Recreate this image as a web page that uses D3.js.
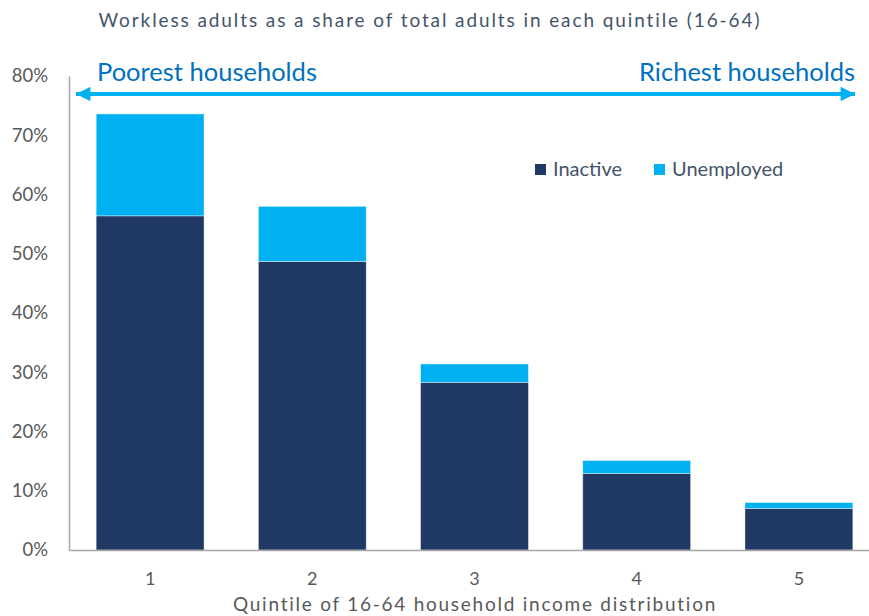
<!DOCTYPE html>
<html>
<head>
<meta charset="utf-8">
<script src="https://cdn.jsdelivr.net/npm/d3@7"></script>
<style>
  html, body { margin: 0; padding: 0; background: #ffffff; }
  svg { display: block; font-family: Lato, "Open Sans", sans-serif; }
</style>
</head>
<body>
<svg id="chart" width="869" height="616"></svg>
<script>
// Quintiles of 16-64 household income, poorest (1) to richest (5)
const quintiles = ["1", "2", "3", "4", "5"];
// Share of adults in each quintile, in percent
const inactive   = [56.4, 48.7, 28.3, 12.9, 7.0];
const unemployed = [17.2, 9.3, 3.1, 2.2, 1.0];
const seriesNames = ["Inactive", "Unemployed"];
const seriesColors = ["#1F3864", "#00B0F0"];
const yTicks = [0, 10, 20, 30, 40, 50, 60, 70, 80];

const svg = d3.select("#chart");
const margin = { left: 69, right: 880, top: 76, bottom: 550 };

const x = d3.scaleBand().domain(quintiles).range([margin.left, margin.right]).paddingInner(0.335).paddingOuter(0.1675);
const y = d3.scaleLinear().domain([0, 80]).range([margin.bottom, margin.top]);

const rows = quintiles.map((q, i) => ({ q, Inactive: inactive[i], Unemployed: unemployed[i] }));
const stacked = d3.stack().keys(seriesNames)(rows);

// Title
svg.append("text")
  .attr("x", 430).attr("y", 27)
  .attr("text-anchor", "middle")
  .attr("fill", "#44546A")
  .attr("font-size", 19)
  .attr("letter-spacing", 1.9)
  .text("Workless adults as a share of total adults in each quintile (16-64)");

// Stacked bars
svg.append("g").selectAll("g")
  .data(stacked)
  .join("g")
  .attr("fill", (d, i) => seriesColors[i])
  .selectAll("rect")
  .data(d => d)
  .join("rect")
  .attr("x", d => x(d.data.q))
  .attr("width", x.bandwidth())
  .attr("y", d => y(d[1]))
  .attr("height", d => y(d[0]) - y(d[1]))
  .attr("stroke", "#ffffff")
  .attr("stroke-opacity", 0.5)
  .attr("stroke-width", 0.8);

// Y axis
const yAxis = svg.append("g")
  .attr("transform", `translate(${margin.left},0)`)
  .call(d3.axisLeft(y).tickValues(yTicks).tickFormat(d => d + "%").tickSize(0).tickPadding(21));
yAxis.select(".domain").attr("stroke", "#A6A6A6").attr("stroke-width", 1.5);
yAxis.selectAll("text").attr("font-size", 18.5).attr("fill", "#595959").attr("font-family", "Lato, sans-serif");

// X axis
const xAxis = svg.append("g")
  .attr("transform", `translate(0,${margin.bottom})`)
  .call(d3.axisBottom(x).tickSize(0).tickPadding(22));
xAxis.select(".domain").attr("stroke", "#A6A6A6").attr("stroke-width", 1.5);
xAxis.selectAll("text").attr("font-size", 18).attr("fill", "#595959").attr("font-family", "Lato, sans-serif");

svg.append("text")
  .attr("x", 475).attr("y", 611)
  .attr("text-anchor", "middle")
  .attr("fill", "#595959")
  .attr("font-size", 19)
  .attr("letter-spacing", 1.75)
  .text("Quintile of 16-64 household income distribution");

// Double-headed arrow from poorest to richest
const arrowY = 94;
const defs = svg.append("defs");
["start", "end"].forEach(k => {
  defs.append("marker")
    .attr("id", "head-" + k)
    .attr("viewBox", "0 0 10 10")
    .attr("refX", 10).attr("refY", 5)
    .attr("markerWidth", 4).attr("markerHeight", 3.6)
    .attr("markerUnits", "strokeWidth")
    .attr("orient", k === "start" ? "auto-start-reverse" : "auto")
    .append("path")
    .attr("d", "M0,0 L10,5 L0,10 Z")
    .attr("fill", "#00B0F0");
});
svg.append("line")
  .attr("x1", 76).attr("x2", 855)
  .attr("y1", arrowY).attr("y2", arrowY)
  .attr("stroke", "#00B0F0")
  .attr("stroke-width", 4)
  .attr("marker-start", "url(#head-start)")
  .attr("marker-end", "url(#head-end)");

svg.append("text")
  .attr("x", 97).attr("y", 81)
  .attr("fill", "#0070C0").attr("font-size", 25.5)
  .text("Poorest households");
svg.append("text")
  .attr("x", 855).attr("y", 81)
  .attr("text-anchor", "end")
  .attr("fill", "#0070C0").attr("font-size", 25.5)
  .text("Richest households");

// Legend
const legend = svg.append("g");
const legendX = [535, 654];
seriesNames.forEach((name, i) => {
  legend.append("rect")
    .attr("x", legendX[i]).attr("y", 164)
    .attr("width", 11).attr("height", 11)
    .attr("fill", seriesColors[i]);
  legend.append("text")
    .attr("x", legendX[i] + 18).attr("y", 176)
    .attr("fill", "#44546A").attr("font-size", 20)
    .text(name);
});
</script>
</body>
</html>
